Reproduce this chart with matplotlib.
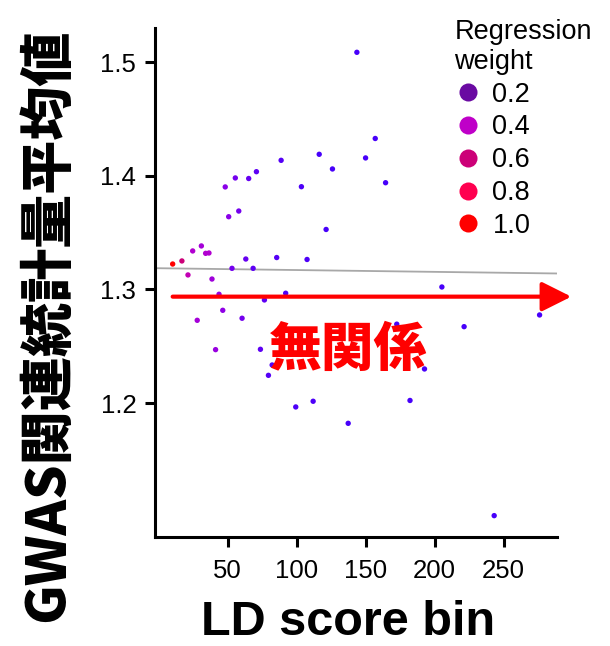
import numpy as np
import matplotlib
matplotlib.use("Agg")
import matplotlib.pyplot as plt
from matplotlib.colors import LinearSegmentedColormap, Normalize
from matplotlib.lines import Line2D

plt.rcParams['font.family'] = ['Liberation Sans', 'DejaVu Sans']

# LD score bin (x), mean chi^2 statistic (y), regression weight
ld_score = [10.1, 16.8, 21.2, 24.6, 27.9, 30.9, 34.0, 36.4, 38.6, 41.2,
            43.7, 46.4, 48.2, 50.7, 53.1, 55.5, 58.0, 60.4, 63.1, 65.2,
            68.4, 70.8, 73.7, 76.6, 79.5, 82.2, 85.5, 88.7, 92.0, 99.3,
            103.4, 107.5, 111.9, 116.3, 121.3, 125.9, 137.3, 143.6, 149.9, 156.9,
            164.4, 172.5, 182.1, 192.6, 205.2, 221.3, 243.1, 276.0]
mean_chi2 = [1.3224, 1.3251, 1.3128, 1.3339, 1.2729, 1.3383, 1.3318, 1.3321, 1.3092, 1.2471,
             1.2958, 1.2817, 1.3902, 1.3640, 1.3186, 1.3981, 1.3690, 1.2747, 1.3268, 1.3976,
             1.3186, 1.4036, 1.2474, 1.2908, 1.2245, 1.2336, 1.3281, 1.4136, 1.2967, 1.1967,
             1.3904, 1.3264, 1.2017, 1.4189, 1.3528, 1.4060, 1.1823, 1.5086, 1.4157, 1.4328,
             1.3939, 1.2695, 1.2024, 1.2301, 1.3022, 1.2673, 1.1011, 1.2776]
reg_weight = [1.0, 0.6, 0.45, 0.35, 0.3, 0.3, 0.35, 0.35, 0.28, 0.25,
              0.25, 0.22, 0.2, 0.2, 0.15, 0.15, 0.15, 0.15, 0.12, 0.12,
              0.1, 0.1, 0.1, 0.1, 0.08, 0.08, 0.08, 0.08, 0.07, 0.06,
              0.06, 0.06, 0.06, 0.05, 0.05, 0.05, 0.05, 0.05, 0.05, 0.05,
              0.05, 0.05, 0.05, 0.05, 0.05, 0.05, 0.05, 0.05]

# fitted line
reg_intercept = 1.3187
reg_slope = -1.6e-5

legend_breaks = [0.2, 0.4, 0.6, 0.8, 1.0]
legend_colors = ['#6a0aa2', '#bf00c8', '#cc0078', '#ff0050', '#ff0000']

cmap = LinearSegmentedColormap.from_list(
    'wt', [(0.0, '#3300ff'), (0.2, '#8a00e8'), (0.4, '#bf00c8'),
           (0.6, '#cc0078'), (0.8, '#ff0050'), (1.0, '#ff0000')])

fig = plt.figure(figsize=(6.1, 6.46), dpi=100)
ax = fig.add_axes([0.2541, 0.1687, 0.6585, 0.7880])

xmin, xmax = -2.7, 288.4
xs = np.array([xmin, xmax])
ax.plot(xs, reg_intercept + reg_slope * xs, color='#a8a8a8', lw=1.3, zorder=1)

ax.scatter(ld_score, mean_chi2, c=reg_weight, cmap=cmap, norm=Normalize(0, 1),
           s=15, linewidths=0, zorder=3)

ax.set_xlim(xmin, xmax)
ax.set_ylim(1.0823, 1.5300)
ax.set_xticks([50, 100, 150, 200, 250])
ax.set_yticks([1.2, 1.3, 1.4, 1.5])
ax.set_yticklabels(['1.2', '1.3', '1.4', '1.5'])

for s in ['top', 'right']:
    ax.spines[s].set_visible(False)
for s in ['left', 'bottom']:
    ax.spines[s].set_linewidth(2.2)
ax.tick_params(axis='both', length=7, width=2.2, labelsize=18.5)
ax.tick_params(axis='x', pad=9)
ax.tick_params(axis='y', pad=6.5)

# arrow and annotation
ax.annotate('', xy=(299.0, 1.2937), xytext=(10.1, 1.2937),
            arrowprops=dict(arrowstyle='-|>,head_length=18,head_width=9',
                            mutation_scale=1, color='#ff0000', lw=3,
                            shrinkA=0, shrinkB=0),
            annotation_clip=False, zorder=4)
ax.text(137, 1.2468, '無関係', color='#ff0000', fontsize=38, ha='center', va='center',
        family=['Noto Sans CJK JP'], fontweight='black', zorder=5)

fig.text(0.079, 0.497, 'GWAS関連統計量平均値', rotation=90, ha='center', va='center',
         fontsize=39, family=['Noto Sans CJK JP'], fontweight='black')
fig.text(0.571, 0.036, 'LD score bin', ha='center', va='center',
         fontsize=35, fontweight='bold')

handles = [Line2D([], [], marker='o', ls='', markersize=13, markeredgewidth=0,
                  color=c) for c in legend_colors]
labels = ['%.1f' % b for b in legend_breaks]
leg = ax.legend(handles, labels, title='Regression\nweight', loc='upper left',
                bbox_to_anchor=(0.714, 1.0), bbox_transform=fig.transFigure,
                frameon=False, fontsize=19.5, title_fontsize=19.5,
                handletextpad=0.4, labelspacing=0.25, handlelength=1.0,
                borderpad=0.2, alignment='left')

fig.savefig('out.png', dpi=100)
